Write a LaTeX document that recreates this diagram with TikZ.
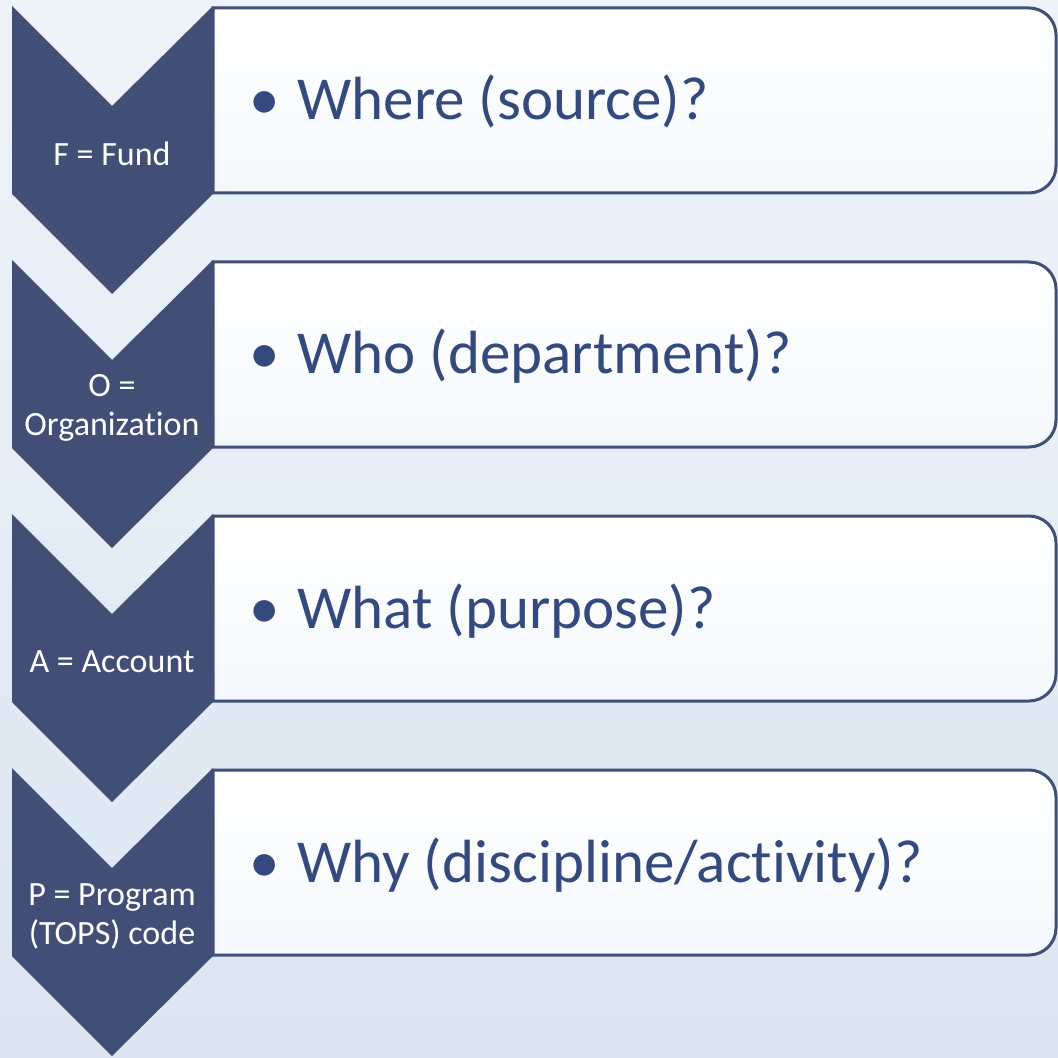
\documentclass[tikz,border=0pt]{standalone}
\usepackage{fontspec}
\setmainfont{Carlito}[Ligatures=NoCommon]
\usepackage{xcolor}
\definecolor{myblue}{RGB}{65,78,118}
\definecolor{mytext}{RGB}{52,73,126}
\definecolor{mybgtop}{RGB}{238,243,249}
\definecolor{mybgbot}{RGB}{219,230,241}
\definecolor{mybox}{RGB}{244,248,252}
\tikzset{
  chevron/.style={fill=myblue},
  itembox/.style={draw=myblue, line width=1.5pt, top color=white, bottom color=mybox},
  lbl/.style={text=white, align=center, font=\fontsize{17}{19.5}\selectfont},
  question/.style={text=mytext, anchor=base west, inner sep=0pt, font=\fontsize{30.5}{36}\selectfont}
}

\begin{document}
\begin{tikzpicture}[x=0.5pt,y=-0.5pt]
% background
\fill[top color=mybgtop, bottom color=mybgbot] (0,0) rectangle (1058,1058);
\useasboundingbox (0,0) rectangle (1058,1058);
% one chevron and one box per row
\foreach \lab/\txt [count=\i from 0] in {{F = Fund}/{Where (source)?},
    {O =\\Organization}/{Who (department)?},
    {A = Account}/{What (purpose)?},
    {P = Program\\(TOPS) code}/{Why (discipline/activity)?}}
{
  \pgfmathsetmacro{\ytop}{6+254*\i}
  \fill[chevron] (12,\ytop) -- (112,\ytop+100) -- (213,\ytop) -- (213,\ytop+188)
    -- (112,\ytop+288) -- (12,\ytop+188) -- cycle;
  \draw[itembox] (213,\ytop+2) -- (700,\ytop+2) [rounded corners=13.5pt] -- (1056,\ytop+2)
    -- (1056,\ytop+187) -- (700,\ytop+187) [sharp corners] -- (213,\ytop+187) -- cycle;
  \node[lbl] (lbl\i) at (112,\ytop+148) {\lab};
  \node[question] (q\i) at (297,\ytop+114) {\llap{•\hspace{9pt}}\txt};
}
\end{tikzpicture}
\end{document}
